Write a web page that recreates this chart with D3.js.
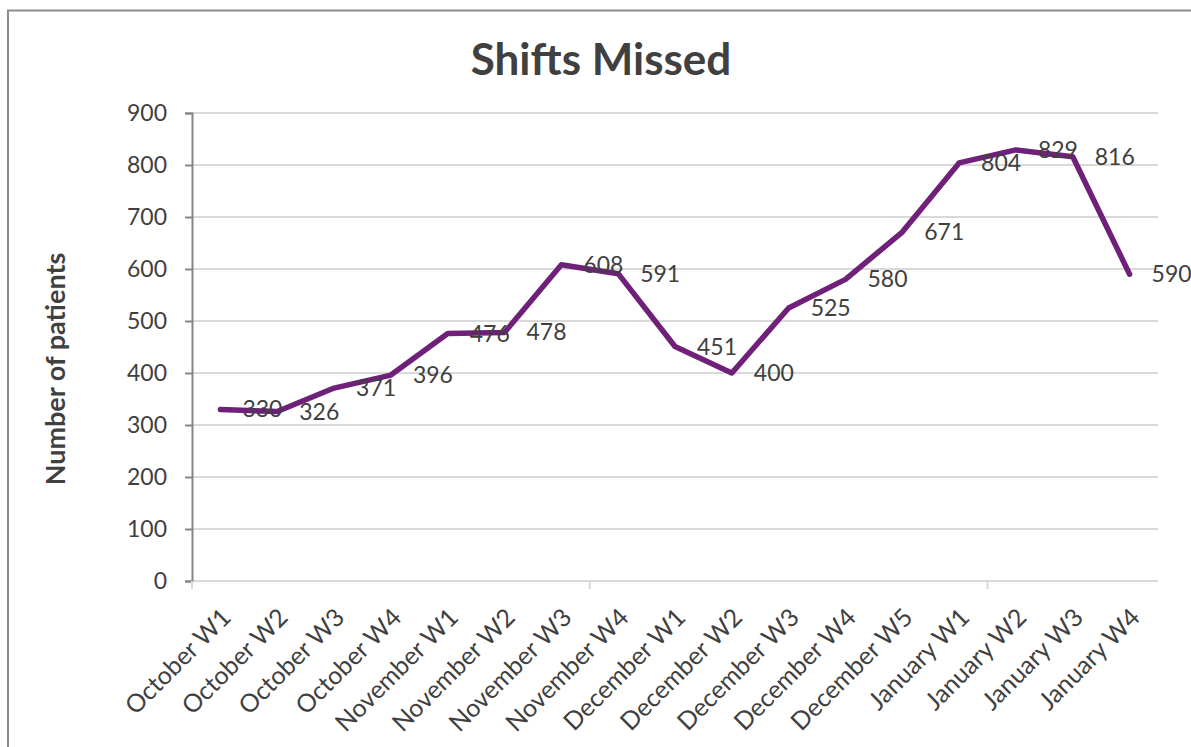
<!DOCTYPE html>
<html>
<head>
<meta charset="utf-8">
<script src="https://cdn.jsdelivr.net/npm/d3@7"></script>
<style>
  body { margin: 0; background: #fff; }
  text { font-family: Lato, "Open Sans", sans-serif; fill: #404040; }
</style>
</head>
<body>
<div id="chart"></div>
<script>
// Weekly categories
var weeks = ["October W1", "October W2", "October W3", "October W4",
  "November W1", "November W2", "November W3", "November W4",
  "December W1", "December W2", "December W3", "December W4", "December W5",
  "January W1", "January W2", "January W3", "January W4"];

// Shifts missed per week
var missed = [330, 326, 371, 396, 476, 478, 608, 591, 451, 400, 525, 580, 671, 804, 829, 816, 590];

// y axis ticks
var yTicks = [0, 100, 200, 300, 400, 500, 600, 700, 800, 900];

var width = 1191, height = 747;
var margin = {left: 192, right: 33, top: 113, bottom: 166};

var svg = d3.select("#chart")
  .append("svg")
    .attr("width", width)
    .attr("height", height);

// outer chart border (only left/top are visible in the picture)
svg.append("rect")
  .attr("x", 8).attr("y", 10.5)
  .attr("width", width + 20).attr("height", height + 20)
  .attr("fill", "none")
  .attr("stroke", "#8c8c8c")
  .attr("stroke-width", 2);

var x = d3.scaleBand()
  .domain(weeks)
  .range([margin.left, width - margin.right]);

var y = d3.scaleLinear()
  .domain([0, 900])
  .range([height - margin.bottom, margin.top]);

// Gridlines
svg.append("g")
  .selectAll("line")
  .data(yTicks)
  .enter()
  .append("line")
    .attr("x1", margin.left)
    .attr("x2", width - margin.right)
    .attr("y1", function(d) { return y(d); })
    .attr("y2", function(d) { return y(d); })
    .attr("stroke", "#d9d9d9")
    .attr("stroke-width", 2);

// Y axis
var yAxis = svg.append("g")
  .attr("transform", "translate(" + margin.left + ",0)")
  .call(d3.axisLeft(y).tickValues(yTicks).tickSize(7).tickPadding(18));
yAxis.select(".domain").attr("stroke", "#868686").attr("stroke-width", 2);
yAxis.selectAll(".tick line").attr("stroke", "#868686").attr("stroke-width", 2);
yAxis.selectAll("text")
  .style("font-size", "23px")
  .style("font-family", "Lato, sans-serif")
  .attr("fill", "#404040");

// X axis: tick marks every 7 categories like the spreadsheet
var bottom = height - margin.bottom;
var xTickPos = [0, 7, 14].map(function(i) { return x(weeks[i]); });
svg.append("g")
  .selectAll("line")
  .data(xTickPos)
  .enter()
  .append("line")
    .attr("x1", function(d) { return d; })
    .attr("x2", function(d) { return d; })
    .attr("y1", bottom)
    .attr("y2", bottom + 8)
    .attr("stroke", "#d9d9d9")
    .attr("stroke-width", 2);

svg.append("g")
  .selectAll("text")
  .data(weeks)
  .enter()
  .append("text")
    .attr("text-anchor", "end")
    .attr("transform", function(d) {
      return "translate(" + (x(d) + x.bandwidth() / 2 + 12) + "," + (bottom + 38) + ") rotate(-45)";
    })
    .style("font-size", "25px")
    .text(function(d) { return d; });

// The line
var line = d3.line()
  .x(function(d, i) { return x(weeks[i]) + x.bandwidth() / 2; })
  .y(function(d) { return y(d); });

svg.append("path")
  .datum(missed)
  .attr("d", line)
  .attr("fill", "none")
  .attr("stroke", "#6f2079")
  .attr("stroke-width", 5.5)
  .attr("stroke-linejoin", "round")
  .attr("stroke-linecap", "round");

// Data labels to the right of each point
svg.append("g")
  .selectAll("text")
  .data(missed)
  .enter()
  .append("text")
    .attr("x", function(d, i) { return x(weeks[i]) + x.bandwidth() / 2 + 22; })
    .attr("y", function(d) { return y(d); })
    .attr("dy", "0.35em")
    .style("font-size", "23px")
    .text(function(d) { return d; });

// Title
svg.append("text")
  .attr("x", 601)
  .attr("y", 75)
  .attr("text-anchor", "middle")
  .style("font-size", "44px")
  .style("font-weight", "bold")
  .text("Shifts Missed");

// Y axis title
svg.append("text")
  .attr("transform", "translate(65,369) rotate(-90)")
  .attr("text-anchor", "middle")
  .style("font-size", "27px")
  .style("font-weight", "bold")
  .text("Number of patients");
</script>
</body>
</html>
